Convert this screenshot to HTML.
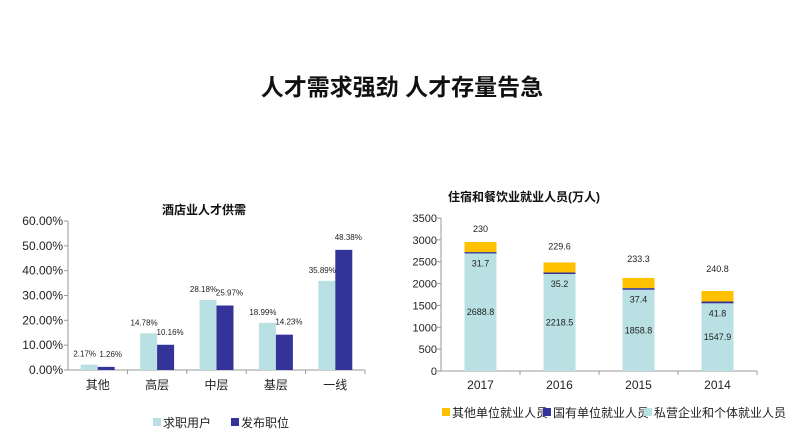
<!DOCTYPE html>
<html><head><meta charset="utf-8"><style>
body{margin:0;background:#fff;width:801px;height:436px;overflow:hidden;font-family:"Liberation Sans","Noto Sans CJK SC",sans-serif}
svg text{font-family:"Liberation Sans","Noto Sans CJK SC",sans-serif}
</style></head><body>
<svg id="s" width="801" height="436">
<text x="402" y="95" text-anchor="middle" font-size="23" font-weight="bold" fill="#111">人才需求强劲 人才存量告急</text>
<text x="204" y="214" text-anchor="middle" font-size="12" font-weight="bold" fill="#111">酒店业人才供需</text>
<text x="524" y="201" text-anchor="middle" font-size="12" font-weight="bold" fill="#111">住宿和餐饮业就业人员(万人)</text>
<g id="L"></g><g id="R"></g>
</svg>
<script>
const cats=["其他","高层","中层","基层","一线"];
const seekers=[2.17,14.78,28.18,18.99,35.89];
const posts=[1.26,10.16,25.97,14.23,48.38];
const leftTicks=[0,10,20,30,40,50,60];
const years=["2017","2016","2015","2014"];
const privateEmp=[2688.8,2218.5,1858.8,1547.9];
const stateEmp=[31.7,35.2,37.4,41.8];
const otherEmp=[230,229.6,233.3,240.8];
const rightTicks=[0,500,1000,1500,2000,2500,3000,3500];
const NS="http://www.w3.org/2000/svg";
function mk(p,t,a,txt){const e=document.createElementNS(NS,t);for(const k in a)e.setAttribute(k,a[k]);if(txt!==undefined)e.textContent=txt;p.appendChild(e);return e;}
// Left
const L=document.getElementById('L');
const lx0=68,lx1=365,ly0=370,ly1=221;
const ly=v=>ly0-(v/60)*(ly0-ly1);
const cw=(lx1-lx0)/cats.length;
let e=mk(L,'line',{x1:lx0,y1:ly1,x2:lx0,y2:ly0,stroke:'#999'});

e=mk(L,'line',{x1:lx0,y1:ly0,x2:lx1,y2:ly0,stroke:'#999'});

leftTicks.forEach(t=>{mk(L,'line',{x1:lx0-4,y1:ly(t),x2:lx0,y2:ly(t),stroke:'#999'});
e=mk(L,'text',{x:lx0-5,y:ly(t)+4,'text-anchor':'end','font-size':12,fill:'#222'},t.toFixed(2)+'%');
});
cats.forEach((c,i)=>{const cx=lx0+cw*(i+0.5);
mk(L,'line',{x1:lx0+cw*(i+1),y1:ly0,x2:lx0+cw*(i+1),y2:ly0+4,stroke:'#999'});
e=mk(L,'rect',{x:cx-17,y:ly(seekers[i]),width:17,height:ly0-ly(seekers[i]),fill:'#b9e0e3'});

e=mk(L,'rect',{x:cx,y:ly(posts[i]),width:17,height:ly0-ly(posts[i]),fill:'#33339a'});

e=mk(L,'text',{x:cx-13,y:ly(seekers[i])-8,'text-anchor':'middle','font-size':8,fill:'#222'},seekers[i].toFixed(2)+'%');

e=mk(L,'text',{x:cx+13,y:ly(posts[i])-10,'text-anchor':'middle','font-size':8,fill:'#222'},posts[i].toFixed(2)+'%');

e=mk(L,'text',{x:cx,y:389,'text-anchor':'middle','font-size':12,fill:'#222'},c);
});
e=mk(L,'rect',{x:153,y:418,width:8,height:8,fill:'#b9e0e3'});
e=mk(L,'text',{x:163,y:427,'font-size':12,fill:'#222'},'求职用户');
e=mk(L,'rect',{x:231,y:418,width:8,height:8,fill:'#33339a'});
e=mk(L,'text',{x:241,y:427,'font-size':12,fill:'#222'},'发布职位');
// Right
const R=document.getElementById('R');
const rx0=441,rx1=757,ry0=371,ry1=218;
const ry=v=>ry0-(v/3500)*(ry0-ry1);
const rw=(rx1-rx0)/years.length;
e=mk(R,'line',{x1:rx0,y1:ry1,x2:rx0,y2:ry0,stroke:'#999'});
e=mk(R,'line',{x1:rx0,y1:ry0,x2:rx1,y2:ry0,stroke:'#999'});
rightTicks.forEach(t=>{mk(R,'line',{x1:rx0-4,y1:ry(t),x2:rx0,y2:ry(t),stroke:'#999'});
e=mk(R,'text',{x:rx0-4,y:ry(t)+4,'text-anchor':'end','font-size':11,fill:'#222'},String(t));
});
years.forEach((yr,i)=>{const cx=rx0+rw*(i+0.5),bw=32,bx=cx-bw/2;
mk(R,'line',{x1:rx0+rw*(i+1),y1:ry0,x2:rx0+rw*(i+1),y2:ry0+4,stroke:'#999'});
const a=privateEmp[i],b=stateEmp[i],c=otherEmp[i];
e=mk(R,'rect',{x:bx,y:ry(a),width:bw,height:ry0-ry(a),fill:'#b9e0e3'});
e=mk(R,'rect',{x:bx,y:ry(a+b),width:bw,height:ry(a)-ry(a+b),fill:'#33339a'});
e=mk(R,'rect',{x:bx,y:ry(a+b+c),width:bw,height:ry(a+b)-ry(a+b+c),fill:'#ffc000'});
e=mk(R,'text',{x:cx,y:(ry(a)+ry0)/2+3,'text-anchor':'middle','font-size':9,fill:'#222'},a.toFixed(1));
e=mk(R,'text',{x:cx,y:ry(a)+13,'text-anchor':'middle','font-size':9,fill:'#222'},b.toFixed(1));
e=mk(R,'text',{x:cx,y:ry(a+b+c)-10-i*3,'text-anchor':'middle','font-size':9,fill:'#222'},String(c));
e=mk(R,'text',{x:cx,y:389,'text-anchor':'middle','font-size':12,fill:'#222'},yr);});
const leg=[["#ffc000","其他单位就业人员",442],["#33339a","国有单位就业人员",543],["#b9e0e3","私营企业和个体就业人员",644]];
leg.forEach(l=>{e=mk(R,'rect',{x:l[2],y:408,width:8,height:8,fill:l[0]});
e=mk(R,'text',{x:l[2]+10,y:417,'font-size':12,fill:'#222'},l[1]);});
</script>
</body></html>
